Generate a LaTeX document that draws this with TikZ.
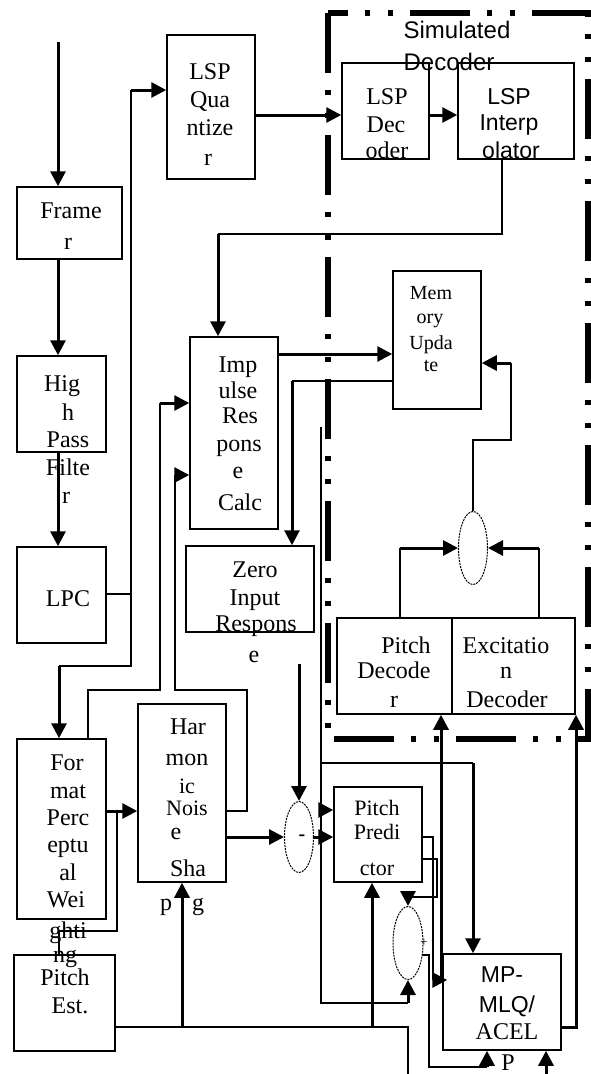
\documentclass[tikz,border=0pt]{standalone}
\usepackage{fontspec}
\setmainfont{Liberation Serif}
\newfontfamily\sansf{Liberation Sans}
\usetikzlibrary{arrows.meta,shapes.geometric}
\newcommand\mkbox[5]{\node[box,minimum width={(#4-#2)*1pt},minimum height={(#5-#3)*1pt}] (#1) at ({(#2+#4)/2},{(#3+#5)/2}) {};}
\tikzset{
 box/.style={draw, line width=1.5pt, inner sep=0pt, rectangle},
 thn/.style={line width=1.5pt},
 thk/.style={line width=3pt},
 arr/.style={-{Triangle[length=15pt,width=15pt]}},
 tl/.style={anchor=base, inner sep=0pt, font=\fontsize{24}{29}\selectfont},
 tls/.style={anchor=base, inner sep=0pt, font=\sansf\fontsize{23}{28}\selectfont},
 tlm/.style={anchor=base, inner sep=0pt, font=\fontsize{20}{24}\selectfont},
 tlp/.style={anchor=base, inner sep=0pt, font=\fontsize{22}{26}\selectfont},
 ell/.style={draw, ellipse, dash pattern=on 2pt off 1pt, line width=1pt, inner sep=0pt},
 ddb/.style={line width=6pt, dash pattern=on 60pt off 17pt on 5pt off 18pt on 5pt off 17pt},
}
\begin{document}
\begin{tikzpicture}[x=1pt,y=-1pt]
\useasboundingbox (0,0) rectangle (591,1074);
% boxes
\mkbox{framer}{17}{187}{122}{259}
\mkbox{lspq}{167}{35}{255}{179}
\mkbox{lspd}{342}{63}{429}{159}
\mkbox{lspi}{458}{63}{574}{159}
\mkbox{mu}{393}{271}{481}{409}
\mkbox{irc}{190}{337}{278}{529}
\mkbox{hpf}{17}{356}{106}{452}
\mkbox{lpc}{17}{547}{106}{643}
\mkbox{zir}{186}{546}{314}{632}
\mkbox{pd}{337}{618}{452}{714}
\mkbox{exd}{452}{618}{575}{714}
\mkbox{hns}{138}{704}{226}{882}
\mkbox{fpw}{17}{739}{106}{919}
\mkbox{pe}{14}{955}{115}{1051}
\mkbox{pp}{334}{787}{422}{882}
\mkbox{mp}{443}{954}{561}{1050}
% summing ellipses
\node[ell,minimum width=29pt,minimum height=71pt] (e1) at (299,837) {};
\node[ell,minimum width=30pt,minimum height=73pt] (e2) at (408,943) {};
\node[ell,minimum width=29pt,minimum height=73pt] (e3) at (473,548) {};
% texts
\node[tl] (tfr1) at (71,218) {Frame};
\node[tl] (tfr2) at (68,249) {r};
\node[tl] (tq1) at (210,79) {LSP};
\node[tl] (tq2) at (210,107) {Qua};
\node[tl] (tq3) at (210,135) {ntize};
\node[tl] (tq4) at (208,165) {r};
\node[tl] (td1) at (387,104) {LSP};
\node[tl] (td2) at (386,132) {Dec};
\node[tl] (td3) at (387,158) {oder};
\node[tls] (ti1) at (509,104) {LSP};
\node[tls] (ti2) at (509,130) {Interp};
\node[tls] (ti3) at (511,158) {olator};
\node[tls,font=\sansf\fontsize{24}{28}\selectfont] (ts1) at (457,38) {Simulated};
\node[tls,font=\sansf\fontsize{24}{28}\selectfont] (ts2) at (449,70) {Decoder};
\node[tlm] (tm1) at (431,299) {Mem};
\node[tlm] (tm2) at (430,323) {ory};
\node[tlm] (tm3) at (431,349) {Upda};
\node[tlm] (tm4) at (431,371) {te};
\node[tl] (tr1) at (238,372) {Imp};
\node[tl] (tr2) at (238,398) {ulse};
\node[tl] (tr3) at (240,423) {Res};
\node[tl] (tr4) at (239,451) {pons};
\node[tl] (tr5) at (238,478) {e};
\node[tl] (tr6) at (240,510) {Calc};
\node[tl] (th1) at (62,391) {Hig};
\node[tl] (th2) at (68,420) {h};
\node[tl] (th3) at (68,447) {Pass};
\node[tl] (th4) at (68,475) {Filte};
\node[tl] (th5) at (66,503) {r};
\node[tl] (tl1) at (68,606) {LPC};
\node[tl] (tz1) at (255,577) {Zero};
\node[tl] (tz2) at (255,605) {Input};
\node[tl] (tz3) at (256,631) {Respons};
\node[tl] (tz4) at (254,662) {e};
\node[tl] (tpd1) at (406,653) {Pitch};
\node[tl] (tpd2) at (394,678) {Decode};
\node[tl] (tpd3) at (394,707) {r};
\node[tl] (tx1) at (506,653) {Excitatio};
\node[tl] (tx2) at (506,678) {n};
\node[tl] (tx3) at (507,707) {Decoder};
\node[tl] (tn1) at (188,734) {Har};
\node[tl] (tn2) at (187,765) {mon};
\node[tlp] (tn3) at (187,793) {ic};
\node[tlp] (tn4) at (187,815) {Nois};
\node[tl] (tn5) at (176,839) {e};
\node[tl] (tn6) at (188,876) {Sha};
\node[tl] (tn7) at (166,910) {p};
\node[tl] (tn8) at (198,910) {g};
\node[tl] (tf1) at (67,770) {For};
\node[tl] (tf2) at (68,798) {mat};
\node[tl] (tf3) at (68,825) {Perc};
\node[tl] (tf4) at (68,852) {eptu};
\node[tl] (tf5) at (68,880) {al};
\node[tl] (tf6) at (66,907) {Wei};
\node[tl] (tf7) at (68,938) {ghti};
\node[tl] (tf8) at (65,962) {ng};
\node[tl] (te1) at (65,985) {Pitch};
\node[tl] (te2) at (70,1013) {Est.};
\node[tlp] (tp1) at (377,815) {Pitch};
\node[tlp] (tp2) at (377,839) {Predi};
\node[tlp] (tp3) at (377,875) {ctor};
\node[tls] (tmp1) at (502,982) {MP-};
\node[tls] (tmp2) at (507,1012) {MLQ/};
\node[tl] (tmp3) at (507,1039) {ACEL};
\node[tl] (tmp4) at (508,1070) {P};
\node[tl,font=\bfseries\fontsize{20}{24}\selectfont] (tminus) at (302,840) {-};
\node[tl,font=\fontsize{13}{15}\selectfont] (tplus) at (424,946) {+};
% connectors
\coordinate (in) at (58,42);
\draw[thk,arr] (in) -- (in |- framer.north);
\draw[thk,arr] (in |- framer.south) -- (in |- hpf.north);
\draw[thk,arr] (in |- hpf.south) -- (in |- lpc.north);
\coordinate (lpcj) at (131,594);
\draw[thn] (lpc.east |- lpcj) -- (lpcj);
\draw[thn] (59,666) -- (131,666) -- (131,90);
\draw[thk,arr] (131,90) -- (lspq.west |- 0,90);
\draw[thk,arr] (59,666) -- (59,0 |- fpw.north);
\draw[thk,arr] (lspq.east |- 0,115) -- (lspd.west |- 0,115);
\draw[thk,arr] (lspd.east |- 0,115) -- (lspi.west |- 0,115);
\draw[thn] (502,0 |- lspi.south) -- (502,234) -- (218,234);
\draw[thk,arr] (218,234) -- (218,0 |- irc.north);
\draw[thk,arr] (irc.east |- 0,354) -- (mu.west |- 0,354);
\draw[thn] (mu.west |- 0,381) -- (292,381);
\draw[thk,arr] (292,381) -- (292,0 |- zir.north);
\draw[thn] (88,0 |- fpw.north) -- (88,690) -- (160,690) -- (160,403);
\draw[thk,arr] (160,403) -- (irc.west |- 0,403);
\draw[thn] (hns.east |- 0,811) -- (247,811) -- (247,690) -- (175,690) -- (175,475);
\draw[thk,arr] (175,475) -- (irc.west |- 0,475);
\draw[thk,arr] (fpw.east |- 0,811) -- (hns.west |- 0,811);
\draw[thn] (117,811) -- (117,931) -- (59,931) -- (59,0 |- pe.north);
\draw[thk,arr] (hns.east |- e1.west) -- (e1.west);
\draw[thk,arr] (e1.east) -- (pp.west |- e1.east);
\coordinate (zs) at (299,664);
\draw[thk,arr] (zs) -- (e1.north);
\coordinate (vt) at (321,427);
\draw[thn] (vt) -- (321,1003) -- (408,1003);
\draw[thk,arr] (408,1003) -- (e2.south);
\draw[thn] (321,763) -- (473,763);
\draw[thk,arr] (473,763) -- (473,0 |- mp.north);
\draw[thk,arr] (321,810) -- (pp.west |- 0,810);
\draw[thn] (pp.east |- 0,837) -- (433,837) -- (433,980);
\draw[thk,arr,shorten >=-5pt] (433,980) -- (mp.west |- 0,980);
\draw[thn] (pp.east |- 0,859) -- (437,859) -- (437,897) -- (408,897);
\draw[thk,arr] (408,897) -- (e2.north);
\draw[thn] (422,955) -- (429,955) -- (429,1067) -- (487,1067);
\draw[thk,arr] (487,1067) -- (487,0 |- mp.south);
\draw[thn] (pe.east |- 0,1027) -- (408,1027) -- (408,1074);
\draw[thk,arr] (182,1027) -- (182,0 |- hns.south);
\draw[thk,arr] (372,1027) -- (372,0 |- pp.south);
\coordinate (bt) at (546,1074);
\draw[thk,arr] (bt) -- (bt |- mp.south);
\draw[thk,arr] (mp.east |- 0,1027) -- (576,1027) -- (576,0 |- exd.south);
\draw[thk,arr] (441,982) -- (441,0 |- pd.south);
\draw[thn] (400,0 |- pd.north) -- (400,0 |- e3.west);
\draw[thk,arr] (400,0 |- e3.west) -- (e3.west);
\draw[thn] (539,0 |- exd.north) -- (539,0 |- e3.east);
\draw[thk,arr] (539,0 |- e3.east) -- (e3.east);
\draw[thn] (e3.north) -- (473,440) -- (511,440) -- (511,363);
\draw[thk,arr] (511,363) -- (mu.east |- 0,363);
% simulated decoder border
\draw[ddb] (328,13) rectangle (588,739);
\end{tikzpicture}
\end{document}
